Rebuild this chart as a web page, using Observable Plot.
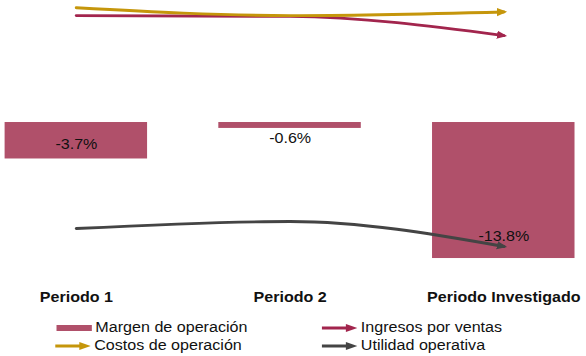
<!DOCTYPE html>
<html>
<head>
<meta charset="utf-8">
<script src="https://cdn.jsdelivr.net/npm/d3@7"></script>
<script src="https://cdn.jsdelivr.net/npm/@observablehq/plot@0.6"></script>
<style>
  html, body { margin: 0; padding: 0; background: #fff; overflow: hidden; }
  #wrap { position: relative; width: 510px; transform-origin: 0 0; font-family: "Liberation Sans", Arial, sans-serif; color: #111; }
  #chart { position: relative; width: 510px; height: 310px; }
  #chart svg { position: absolute; left: 0; top: 0; }
  #legend { position: relative; height: 46px; font-size: 14px; }
  .item { position: absolute; display: flex; align-items: center; height: 18px; white-space: nowrap; }
  .item svg { display: block; margin-right: 3px; }
</style>
</head>
<body>
<div id="wrap">
  <div id="chart"></div>
  <div id="legend"></div>
</div>
<script>
// ---- data ----
const periods = ["Periodo 1", "Periodo 2", "Periodo Investigado"];
const margenOperacion = [-3.7, -0.6, -13.8];           // %
// indexed trajectories (relative height)
const ingresosVentas = [94.2, 93.9, 86.5];
const costosOperacion = [97.2, 94.2, 95.6];
const utilidadOperativa = [12.3, 15.0, 5.4];

const seriesNames = ["Ingresos por ventas", "Costos de operación", "Utilidad operativa"];
const seriesColors = ["#A2254D", "#C5960B", "#444444"];
const barColor = "#B0506A";

const bars = periods.map((p, i) => ({period: p, value: margenOperacion[i]}));
const lines = [
  ...periods.map((p, i) => ({period: p, series: seriesNames[0], v: ingresosVentas[i]})),
  ...periods.map((p, i) => ({period: p, series: seriesNames[1], v: costosOperacion[i]})),
  ...periods.map((p, i) => ({period: p, series: seriesNames[2], v: utilidadOperativa[i]}))
];

const W = 510, H = 310;
const xOpts = {type: "band", domain: periods, paddingInner: 0.332, paddingOuter: 0, align: 0.5};
const font = {fontFamily: "'Liberation Sans', Arial, sans-serif", fontSize: "14px", color: "#111", background: "transparent", overflow: "visible"};

const fmt = d => `${d.value.toFixed(1)}%`;

const plotBars = Plot.plot({
  width: W, height: H,
  marginLeft: 4, marginRight: 9, marginTop: 0, marginBottom: 18,
  style: font,
  x: {...xOpts, label: null},
  y: {domain: [-14, 12.38], range: [260, 0], axis: null},
  marks: [
    Plot.barY(bars, {x: "period", y: "value", fill: barColor}),
    Plot.text(bars.filter(d => d.period === periods[0]), {x: "period", y: d => d.value / 2, text: fmt, dy: 4, fontSize: 14, fill: "#111"}),
    Plot.text(bars.filter(d => d.period === periods[1]), {x: "period", y: "value", text: fmt, dy: 10, fontSize: 14, fill: "#111"}),
    Plot.text(bars.filter(d => d.period === periods[2]), {x: "period", y: "value", text: fmt, dy: -22, fontSize: 14, fill: "#111"}),
    Plot.axisX({tickSize: 0, tickPadding: 0, fontWeight: "bold", fontSize: 14, label: null})
  ]
});

const plotLines = Plot.plot({
  width: W, height: H,
  marginLeft: 4, marginRight: 9, marginTop: 0, marginBottom: 18,
  style: font,
  x: {...xOpts, axis: null},
  y: {domain: [0, 100], range: [260, 0], axis: null},
  color: {domain: seriesNames, range: seriesColors},
  marks: [
    Plot.line(lines, {x: "period", y: "v", z: "series", stroke: "series", strokeWidth: 2.9, curve: "monotone-x", markerEnd: "arrow"})
  ]
});

function fixMarkers(svg) {
  svg.querySelectorAll("marker").forEach(m => {
    const c = m.getAttribute("stroke");
    m.setAttribute("fill", c);
    m.setAttribute("stroke", "none");
    m.setAttribute("markerUnits", "userSpaceOnUse");
    m.setAttribute("markerWidth", 12);
    m.setAttribute("markerHeight", 12);
    const p = m.querySelector("path");
    if (p) p.setAttribute("d", "M-5,-3.4L2.4,0L-5,3.4Z");
  });
}
fixMarkers(plotLines);

const chart = document.getElementById("chart");
chart.appendChild(plotBars);
chart.appendChild(plotLines);

// ---- legend ----
const legendItems = [
  {label: "Margen de operación", kind: "rect", color: barColor, left: 49, top: 8},
  {label: "Ingresos por ventas", kind: "arrow", color: seriesColors[0], left: 280, top: 8},
  {label: "Costos de operación", kind: "arrow", color: seriesColors[1], left: 48, top: 26},
  {label: "Utilidad operativa", kind: "arrow", color: seriesColors[2], left: 280, top: 26}
];
const legend = document.getElementById("legend");
for (const it of legendItems) {
  const div = document.createElement("div");
  div.className = "item";
  div.style.left = it.left + "px";
  div.style.top = it.top + "px";
  const sw = it.kind === "rect"
    ? `<svg width="31" height="12"><rect x="0" y="4" width="31" height="6" fill="${it.color}"/></svg>`
    : `<svg width="31" height="12"><line x1="0" y1="7" x2="23" y2="7" stroke="${it.color}" stroke-width="2.8"/><path d="M21,3L31,7L21,11Z" fill="${it.color}"/></svg>`;
  div.innerHTML = sw + `<span>${it.label}</span>`;
  legend.appendChild(div);
}

document.getElementById("wrap").style.transform = `scaleX(${586 / W})`;
</script>
</body>
</html>
